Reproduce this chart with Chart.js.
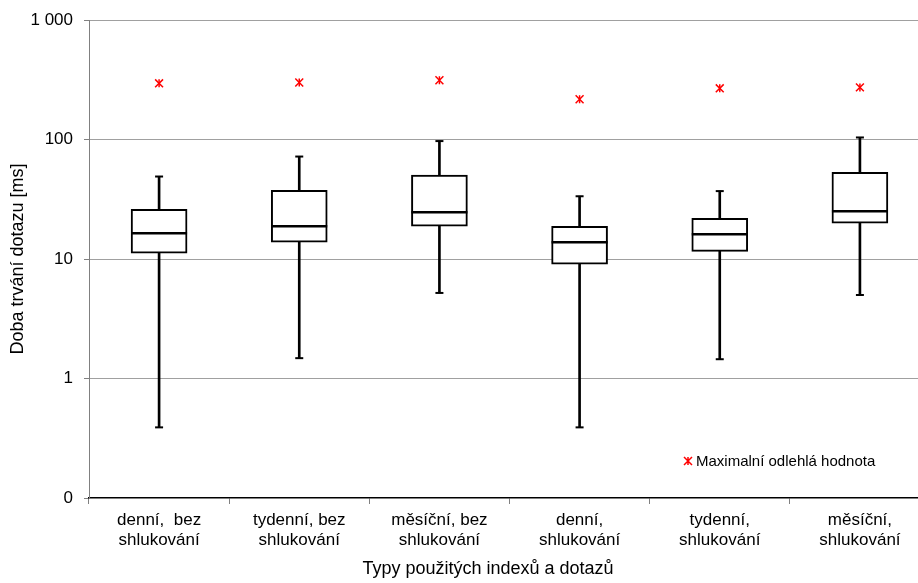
<!DOCTYPE html>
<html>
<head>
<meta charset="utf-8">
<script src="https://cdn.jsdelivr.net/npm/chart.js@4/dist/chart.umd.min.js"></script>
<style>
  html, body { margin: 0; padding: 0; background: #fff; overflow: hidden; }
  #wrap { width: 918px; height: 583px; overflow: hidden; }
</style>
</head>
<body>
<div id="wrap"><canvas id="chart" width="976" height="583"></canvas></div>
<script>
// Query duration per index / query type, box plot on a log axis (ms)
const categories = [
  ["denní,  bez", "shlukování"],
  ["tydenní, bez", "shlukování"],
  ["měsíční, bez", "shlukování"],
  ["denní,", "shlukování"],
  ["tydenní,", "shlukování"],
  ["měsíční,", "shlukování"],
];
const whiskerMin = [0.39, 1.48, 5.2, 0.39, 1.45, 5.0];
const quartile1  = [11.2, 13.8, 18.8, 9.05, 11.6, 19.9];
const medians    = [16.4, 18.8, 24.6, 13.8, 16.1, 25.1];
const quartile3  = [26.1, 37.6, 50.3, 18.8, 21.9, 53.2];
const whiskerMax = [49, 72, 97, 33.5, 37, 104];
const maxOutlier = [295, 300, 313, 217, 268, 273];

const yTickValues = [0.1, 1, 10, 100, 1000];
const yTickLabels = ["0", "1", "10", "100", "1 000"];

const legendLabel = "Maximalní odlehlá hodnota";
const xTitle = "Typy použitých indexů a dotazů";
const yTitle = "Doba trvání dotazu [ms]";

const FONT = "Arial, 'Liberation Sans', sans-serif";

// legend inside the plot (bottom right) and the x title centred on the page
const extras = {
  id: "extras",
  afterDraw(chart) {
    const { ctx, chartArea } = chart;
    const x = chartArea.left + 599;
    const y = chartArea.bottom - 37;
    ctx.save();
    ctx.strokeStyle = "#ff0000";
    ctx.lineWidth = 1.5;
    ctx.beginPath();
    ctx.moveTo(x - 4, y - 4); ctx.lineTo(x + 4, y + 4);
    ctx.moveTo(x + 4, y - 4); ctx.lineTo(x - 4, y + 4);
    ctx.moveTo(x, y - 4); ctx.lineTo(x, y + 4);
    ctx.stroke();
    ctx.fillStyle = "#000";
    ctx.font = "15px " + FONT;
    ctx.textAlign = "left";
    ctx.textBaseline = "middle";
    ctx.fillText(legendLabel, x + 8, y + 1);

    ctx.font = "18px " + FONT;
    ctx.textAlign = "center";
    ctx.fillText(xTitle, chart.width / 2, chartArea.bottom + 71);
    ctx.restore();
  },
};

new Chart(document.getElementById("chart"), {
  type: "bar",
  data: {
    labels: categories,
    datasets: [
      {
        label: "whisker",
        data: categories.map((_, i) => [whiskerMin[i], whiskerMax[i]]),
        backgroundColor: "#000",
        barThickness: 2,
        grouped: false,
        order: 5,
      },
      {
        label: "box",
        data: categories.map((_, i) => [quartile1[i], quartile3[i]]),
        backgroundColor: "#fff",
        borderColor: "#000",
        borderWidth: 2,
        borderSkipped: false,
        barThickness: 56,
        grouped: false,
        order: 4,
      },
      {
        type: "line",
        label: "median",
        data: medians,
        showLine: false,
        pointStyle: "line",
        pointRadius: 28,
        borderColor: "#000",
        pointBorderWidth: 2.5,
        order: 3,
      },
      {
        type: "line",
        label: "capMin",
        data: whiskerMin,
        showLine: false,
        pointStyle: "line",
        pointRadius: 4,
        borderColor: "#000",
        pointBorderWidth: 2,
        order: 2,
      },
      {
        type: "line",
        label: "capMax",
        data: whiskerMax,
        showLine: false,
        pointStyle: "line",
        pointRadius: 4,
        borderColor: "#000",
        pointBorderWidth: 2,
        order: 2,
      },
      {
        type: "line",
        label: legendLabel,
        data: maxOutlier,
        showLine: false,
        pointStyle: "crossRot",
        pointRadius: 5.6,
        borderColor: "#ff0000",
        pointBorderWidth: 1.5,
        order: 1,
      },
      {
        type: "line",
        label: legendLabel + " (bar)",
        data: maxOutlier,
        showLine: false,
        pointStyle: "line",
        pointRotation: 90,
        pointRadius: 4,
        borderColor: "#ff0000",
        pointBorderWidth: 1.5,
        order: 1,
      },
    ],
  },
  options: {
    responsive: false,
    animation: false,
    events: [],
    layout: { autoPadding: false, padding: { top: 20, right: 46, left: 0, bottom: 24.6 } },
    plugins: {
      legend: { display: false },
      tooltip: { enabled: false },
    },
    scales: {
      x: {
        offset: true,
        afterFit: s => { s.height = 60.4; s.paddingLeft = 0; s.paddingRight = 0; },
        border: { color: "#000", width: 1.5 },
        grid: { offset: true, drawOnChartArea: false, drawTicks: true, tickLength: 6, tickColor: "#808080" },
        ticks: {
          color: "#000",
          autoSkip: false,
          maxRotation: 0,
          padding: 6,
          font: { family: FONT, size: 17, lineHeight: 1.2 },
        },
      },
      y: {
        type: "logarithmic",
        min: 0.1,
        max: 1000,
        afterFit: s => { s.width = 89; s.paddingTop = 0; s.paddingBottom = 0; },
        afterBuildTicks: s => { s.ticks = yTickValues.map(v => ({ value: v })); },
        border: { color: "#808080", width: 1 },
        grid: {
          color: c => (c.tick && c.tick.value === 0.1 ? "rgba(0,0,0,0)" : "#a0a0a0"),
          tickColor: "#808080",
          tickLength: 5,
          lineWidth: 1,
        },
        ticks: {
          color: "#000",
          padding: 11,
          font: { family: FONT, size: 17 },
          callback: (v, i) => yTickLabels[i],
        },
        title: {
          display: true,
          text: yTitle,
          color: "#000",
          font: { family: FONT, size: 18, lineHeight: 1.2 },
          padding: { top: 7, bottom: 0 },
        },
      },
    },
  },
  plugins: [extras],
});
</script>
</body>
</html>
